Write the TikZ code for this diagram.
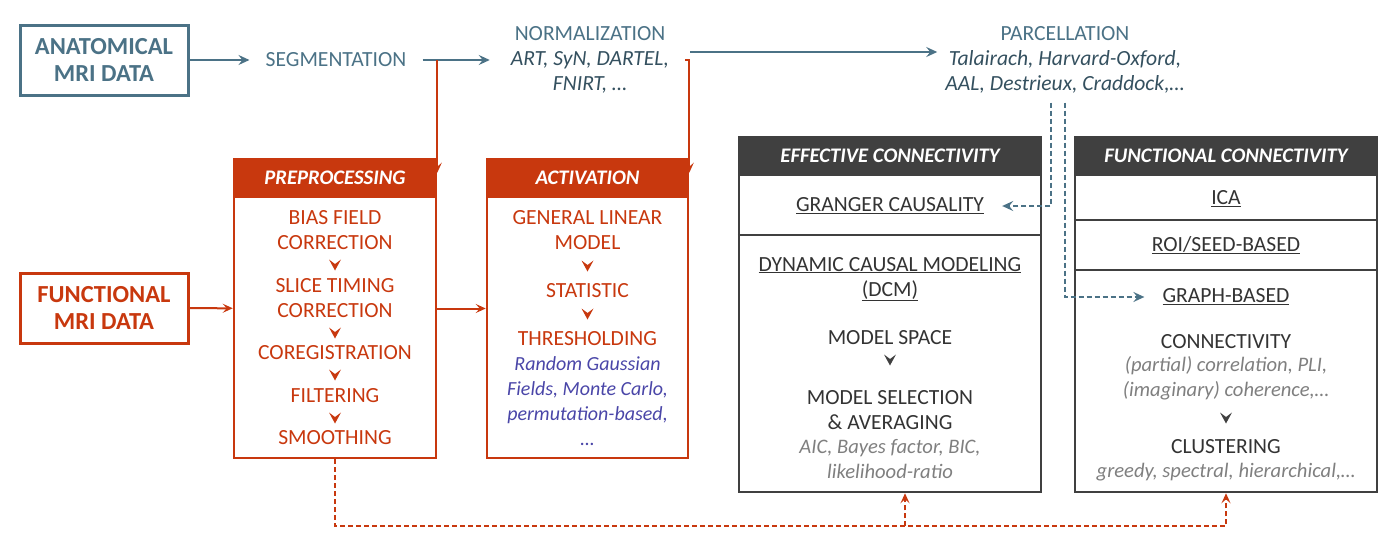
\documentclass[tikz,border=0pt]{standalone}
\usepackage{fontspec}
\setmainfont{Carlito}
\usetikzlibrary{arrows.meta, positioning, calc}

\definecolor{slate}{HTML}{4B7286}
\definecolor{slatedk}{HTML}{34505F}
\definecolor{rust}{HTML}{C8380E}
\definecolor{charc}{HTML}{404040}
\definecolor{inkgray}{HTML}{333333}
\definecolor{notegray}{HTML}{7F7F7F}
\definecolor{methblue}{HTML}{4A46A8}

\begin{document}
\begin{tikzpicture}[x=1pt, y=-1pt,
  every node/.style={inner sep=0pt},
  lbl/.style={font=\fontsize{21.6}{25}\selectfont, align=center},
  note/.style={lbl, font=\fontsize{20.6}{25}\selectfont\itshape},
  srcbox/.style={draw, line width=3pt, minimum width=168pt, minimum height=70pt,
                 font=\fontsize{24.5}{27}\selectfont\bfseries, align=center},
  panel/.style={draw, line width=2.5pt, minimum width=202pt, minimum height=299pt},
  gpanel/.style={draw=charc, line width=2.5pt, minimum width=302pt, minimum height=355pt},
  phead/.style={anchor=north, minimum height=40pt, text=white,
                font=\fontsize{20.7}{23}\selectfont\bfseries\itshape},
  sarr/.style={-{Stealth[length=11pt, width=10pt, inset=4pt]}, line width=2.5pt, slate},
  oarr/.style={-{Stealth[length=10pt, width=9pt, inset=4pt]}, line width=2pt, rust},
  sdash/.style={sarr, line width=2pt, dash pattern=on 5pt off 3pt},
  odash/.style={oarr, dash pattern=on 5pt off 3pt},
  divide/.style={draw=charc, line width=1.3pt},
  chev/.pic={\fill (-6,-5.5) -- (0,5.5) -- (6,-5.5) -- (0,-1) -- cycle;}
]
  \useasboundingbox (0,0) rectangle (1386,546);

  % anatomical stream
  \node[srcbox, slate] (anat) at (104,60) {ANATOMICAL\\MRI DATA};
  \node[lbl, slate, inner xsep=16pt] (seg) at (336,60) {SEGMENTATION};
  \node[lbl, slate, inner xsep=21pt] (norm) at (590,60)
    {NORMALIZATION\\{\color{slatedk}\itshape ART, SyN, DARTEL,}\\{\color{slatedk}\itshape FNIRT, \dots}};
  \node[lbl, slate, inner xsep=8pt] (parc) at (1065,60)
    {PARCELLATION\\{\color{slatedk}\itshape Talairach, Harvard-Oxford,}\\{\color{slatedk}\itshape AAL, Destrieux, Craddock,\dots}};

  % functional stream
  \node[srcbox, rust] (func) at (104,308) {FUNCTIONAL\\MRI DATA};

  \node[panel, rust] (pre) at (335,308.5) {};
  \node[phead, fill=rust, minimum width=202pt] (prehd) at (pre.north) {PREPROCESSING};
  \node[lbl, rust] (bias) at (335,230.5) {BIAS FIELD\\CORRECTION};
  \node[lbl, rust] (slice) at (335,298) {SLICE TIMING\\CORRECTION};
  \node[lbl, rust] (coreg) at (335,353) {COREGISTRATION};
  \node[lbl, rust] (filt) at (335,396) {FILTERING};
  \node[lbl, rust] (smooth) at (335,438) {SMOOTHING};
  \foreach \y in {265,333,375,418}
    \pic[rust] at (335,\y) {chev};

  \node[panel, rust, minimum width=201pt] (act) at (587.5,308.5) {};
  \node[phead, fill=rust, minimum width=201pt] (acthd) at (act.north) {ACTIVATION};
  \node[lbl, rust] (glm) at (587.5,230.5) {GENERAL LINEAR\\MODEL};
  \node[lbl, rust] (stat) at (587.5,291) {STATISTIC};
  \node[lbl, rust] (thresh) at (587.5,339) {THRESHOLDING};
  \node[note, methblue, font=\fontsize{20}{25}\selectfont\itshape] (rgf) at (587.5,401)
    {Random Gaussian\\Fields, Monte Carlo,\\permutation-based,\\\dots};
  \foreach \y in {266,314}
    \pic[rust] at (587.5,\y) {chev};

  % connectivity panels
  \node[gpanel] (effp) at (890,314.5) {};
  \node[phead, fill=charc, minimum width=302pt] (effhd) at (effp.north) {EFFECTIVE CONNECTIVITY};
  \draw[divide] (effp.west |- 0,235) -- (effp.east |- 0,235);
  \node[lbl, inkgray] (granger) at (890,206) {\underline{GRANGER CAUSALITY}};
  \node[lbl, inkgray] (dcm) at (890,279) {\underline{DYNAMIC CAUSAL MODELING}\\\underline{(DCM)}};
  \node[lbl, inkgray] (mspace) at (890,338) {MODEL SPACE};
  \node[lbl, inkgray] (msel) at (890,410) {MODEL SELECTION\\\& AVERAGING};
  \node[note, notegray] (aic) at (890,459.5) {AIC, Bayes factor, BIC,\\likelihood-ratio};
  \pic[charc] at (890,360) {chev};

  \node[gpanel] (funp) at (1226,314.5) {};
  \node[phead, fill=charc, minimum width=302pt] (funhd) at (funp.north) {FUNCTIONAL CONNECTIVITY};
  \draw[divide] (funp.west |- 0,220) -- (funp.east |- 0,220);
  \draw[divide] (funp.west |- 0,270) -- (funp.east |- 0,270);
  \node[lbl, inkgray] (ica) at (1226,199) {\underline{ICA}};
  \node[lbl, inkgray] (roi) at (1226,245) {\underline{ROI/SEED-BASED}};
  \node[lbl, inkgray] (graph) at (1226,297) {\underline{GRAPH-BASED}};
  \node[lbl, inkgray] (conn) at (1226,342) {CONNECTIVITY};
  \node[note, notegray] (corr) at (1226,378.5) {(partial) correlation, PLI,\\(imaginary) coherence,\dots};
  \node[lbl, inkgray] (clust) at (1226,447) {CLUSTERING};
  \node[note, notegray] (greedy) at (1226,472) {greedy, spectral, hierarchical,\dots};
  \pic[charc] at (1226,418) {chev};

  % connectors
  \draw[sarr] (anat) -- (seg);
  \draw[sarr] (seg) -- (seg -| norm.west);
  \draw[sarr] ([yshift=8pt]norm.east) -- ([yshift=8pt]parc.west);
  \draw[oarr] (pre.east |- seg.east) -- ([yshift=-15pt]pre.north east);
  \draw[oarr] ([xshift=-5pt]norm.east) -| ([yshift=-15pt]act.north east);
  \draw[oarr] (func) -- (pre);
  \draw[oarr] (pre) -- (act);
  \draw[sdash, shorten >=18pt] ([xshift=-14pt, yshift=-9pt]parc.south) |- (granger.east);
  \draw[sdash, shorten >=18pt] ([yshift=-9pt]parc.south) |- (graph.west);
  \coordinate (effin) at ([xshift=15pt]effp.south);
  \draw[odash] (pre.south) -- ++(0,67) coordinate (bend) -| (funp.south);
  \draw[odash] (effin |- bend) -- (effin);
\end{tikzpicture}
\end{document}
